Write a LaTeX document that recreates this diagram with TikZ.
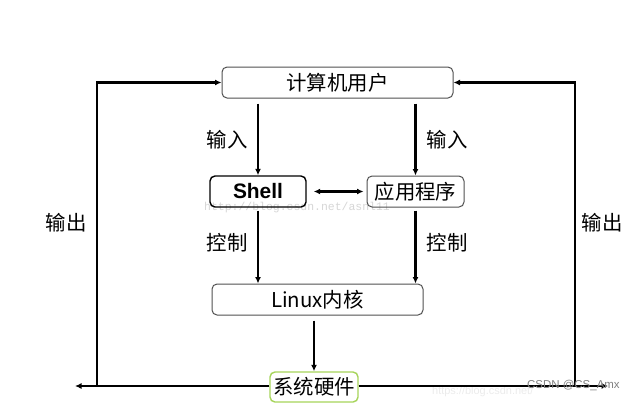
\documentclass[tikz,border=0pt]{standalone}
\usepackage{fontspec}
\setmainfont{Noto Sans CJK SC}
\newfontfamily\latinbold{Liberation Sans}
\newfontfamily\wmmono{Liberation Mono}
\newfontfamily\wmsans{Liberation Sans}
\usetikzlibrary{arrows.meta}
\definecolor{boxgray}{HTML}{505050}
\definecolor{hwgreen}{HTML}{A6D45A}
\begin{document}
\begin{tikzpicture}[x=1bp,y=-1bp,
  box/.style={draw=boxgray,line width=1bp,rounded corners=5bp,inner sep=0pt,
    font=\fontsize{20.5}{22}\selectfont,text=black},
  arr/.style={line width=2.2bp,-{Latex[length=6.5bp,width=6bp]}},
  darr/.style={line width=2.2bp,{Latex[length=6.5bp,width=6bp]}-{Latex[length=6.5bp,width=6bp]}},
  lbl/.style={font=\fontsize{20.5}{22}\selectfont,inner sep=0pt}]
\useasboundingbox (0,0) rectangle (629,404);
% watermarks
\node[font=\wmmono\fontsize{11.5}{11.5}\selectfont,text=black!16,inner sep=0pt] (wm1) at (297,208) {http://blog.csdn.net/asnl11};
\node[font=\wmsans\fontsize{11}{11}\selectfont,text=black!8,inner sep=0pt,anchor=west] (wm2) at (432,392) {https://blog.csdn.net/};
% boxes
\node[box,minimum width=231bp,minimum height=31bp] (user) at (337.5,82.5) {计算机用户};
\node[box,draw=black,line width=1.4bp,minimum width=96bp,minimum height=31bp,font=\latinbold\bfseries\fontsize{21}{22}\selectfont] (shell) at (258,191.5) {Shell};
\node[box,minimum width=97bp,minimum height=31bp] (app) at (415.5,191.5) {应用程序};
\node[box,minimum width=211bp,minimum height=31bp] (kernel) at (317.5,299.5) {Linux内核};
\node[box,draw=hwgreen,line width=1.4bp,fill=white,minimum width=88bp,minimum height=30bp] (hw) at (314,387) {系统硬件};
% inner arrows
\draw[arr,shorten <=5bp] (user.south -| shell) -- (shell.north);
\draw[arr,shorten <=5bp] (user.south -| app) -- (app.north);
\draw[darr,shorten <=7bp,shorten >=3bp] (shell.east) -- (app.west);
\draw[arr,shorten <=3bp] (shell.south) -- (shell.south |- kernel.north);
\draw[arr,shorten <=3bp] (app.south) -- (app.south |- kernel.north);
\draw[arr,shorten <=5bp] (kernel.south -| hw) -- (hw.north);
% outer loop
\coordinate (LE) at (75,386);
\coordinate (RE) at (608,386);
\coordinate (BL) at (97,385);
\coordinate (BR) at (575,385);
\draw[arr] (hw.west |- LE) -- (LE);
\draw[arr] (hw.east |- RE) -- (RE);
\draw[arr] (BL) |- (user.west);
\draw[arr] (BR) |- (user.east);
% labels
\node[lbl] (in1) at (227,140) {输入};
\node[lbl] (in2) at (447,140) {输入};
\node[lbl] (c1) at (227,243) {控制};
\node[lbl] (c2) at (447,243) {控制};
\node[lbl] (o1) at (66,223) {输出};
\node[lbl] (o2) at (602,223) {输出};
\node[font=\wmsans\fontsize{11.5}{12}\selectfont,text=black!50,inner sep=0pt,anchor=west] (wm3) at (527,385) {CSDN @CS\_Amx};
\end{tikzpicture}
\end{document}
